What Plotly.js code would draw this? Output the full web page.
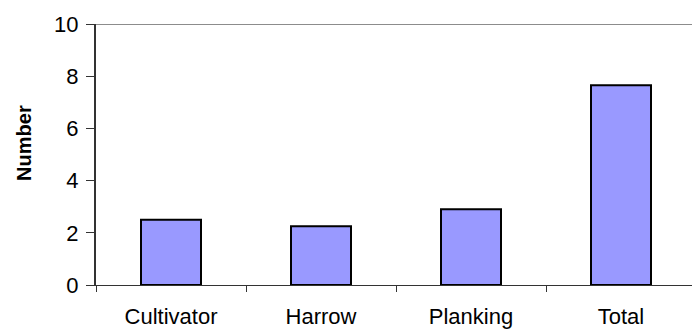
<!DOCTYPE html>
<html>
<head>
<meta charset="utf-8">
<script src="https://cdn.plot.ly/plotly-3.0.1.min.js"></script>
<style>
  html, body { margin: 0; padding: 0; background: #fff; overflow: hidden; }
  #chart { width: 692px; height: 331px; }
</style>
</head>
<body>
<div id="chart"></div>
<script>
// Implements used in the field operation survey
const categories = ['Cultivator', 'Harrow', 'Planking', 'Total'];
const counts = [2.5, 2.25, 2.9, 7.65];
const yTicks = [0, 2, 4, 6, 8, 10];
const yTitle = 'Number';

const trace = {
  type: 'bar',
  x: categories,
  y: counts,
  marker: {
    color: '#9999FF',
    line: { color: '#000000', width: 2 }
  },
  hoverinfo: 'x+y'
};

const layout = {
  width: 692,
  height: 331,
  margin: { l: 96, r: 0, t: 24, b: 46 },
  paper_bgcolor: '#ffffff',
  plot_bgcolor: '#ffffff',
  bargap: 0.6,
  showlegend: false,
  font: { family: 'Liberation Sans, Arial, sans-serif', color: '#000000', size: 22 },
  xaxis: {
    range: [-0.5, 3.5 - 4 / 150],
    showgrid: false,
    zeroline: false,
    showline: true,
    linecolor: '#333333',
    linewidth: 1,
    ticks: 'outside',
    tickson: 'boundaries',
    ticklen: 6,
    tickcolor: '#333333',
    ticklabelstandoff: 12,
    tickfont: { size: 22 }
  },
  yaxis: {
    range: [0, 10],
    tickvals: yTicks,
    ticktext: yTicks.map(String),
    showgrid: false,
    zeroline: false,
    showline: true,
    linecolor: '#333333',
    linewidth: 2,
    ticks: 'outside',
    ticklen: 8,
    tickcolor: '#333333',
    ticklabelstandoff: 3,
    tickfont: { size: 22 }
  },
  // axis title placed slightly above the axis midpoint
  annotations: [
    {
      text: '<b>' + yTitle + '</b>',
      textangle: -90,
      xref: 'paper', yref: 'paper',
      x: -0.121, y: 0.544,
      xanchor: 'center', yanchor: 'middle',
      showarrow: false,
      font: { size: 20, color: '#000000' }
    }
  ],
  shapes: [
    {
      type: 'line',
      xref: 'paper', yref: 'y',
      x0: 0, x1: 1, y0: 10, y1: 10,
      line: { color: '#8c8c8c', width: 2 }
    }
  ]
};

Plotly.newPlot('chart', [trace], layout, { staticPlot: true, displayModeBar: false });
</script>
</body>
</html>
